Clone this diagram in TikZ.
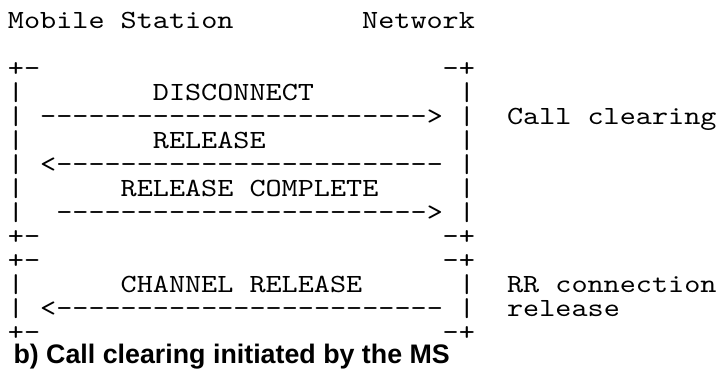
\documentclass[tikz,border=0pt]{standalone}
\usepackage{fontspec}
\usepackage{graphicx}
\newfontfamily\mono[FakeStretch=1.171,Ligatures=TeXOff]{lmmono10-regular.otf}
\newfontfamily\capfont{Liberation Sans}
\newcommand\cw{16.1}
\newsavebox\barbox
\newcommand\vbar{%
  \sbox\barbox{|}%
  \pgfmathsetmacro\vbfac{20/(\ht\barbox+\dp\barbox)}%
  \pgfmathsetmacro\vbrs{\vbfac*\dp\barbox-2.5}%
  \raisebox{\vbrs pt}{\scalebox{1}[\vbfac]{\usebox\barbox}}}
\begin{document}
\begin{tikzpicture}[x=1pt,y=1pt,
  txt/.style={anchor=base west,inner sep=0pt,outer sep=0pt,
    text height=18pt,text depth=3pt,
    font=\mono\fontsize{26.2}{26.2}\selectfont},
  captxt/.style={anchor=base west,inner sep=0pt,outer sep=0pt,
    text height=19pt,text depth=6pt,
    font=\capfont\bfseries\fontsize{26.8}{26.8}\selectfont}]
\useasboundingbox (0,0) rectangle (717,-376);
\newcommand\T[4]{\node[txt] (#1) at ({8+\cw*#2},{-28-24*#3}) {#4};}
% header
\T{ms}{0}{0}{Mobile Station}
\T{nw}{22}{0}{Network}
% first box
\T{tla}{0}{2}{+-}
\T{tra}{27}{2}{-+}
\foreach \r in {3,...,8}{
  \T{bl\r}{0}{\r}{\vbar}
  \T{br\r}{28}{\r}{\vbar}
}
\T{m1}{9}{3}{DISCONNECT}
\T{a1}{2}{4}{------------------------>}
\T{lab1}{31}{4}{Call clearing}
\T{m2}{9}{5}{RELEASE}
\T{a2}{2}{6}{<------------------------}
\T{m3}{7}{7}{RELEASE COMPLETE}
\T{a3}{3}{8}{----------------------->}
\T{bla}{0}{9}{+-}
\T{bra}{27}{9}{-+}
% second box
\T{tlb}{0}{10}{+-}
\T{trb}{27}{10}{-+}
\foreach \r in {11,12}{
  \T{cl\r}{0}{\r}{\vbar}
  \T{cr\r}{28}{\r}{\vbar}
}
\T{m4}{7}{11}{CHANNEL RELEASE}
\T{lab2}{31}{11}{RR connection}
\T{a4}{2}{12}{<------------------------}
\T{lab3}{31}{12}{release}
\T{blb}{0}{13}{+-}
\T{brb}{27}{13}{-+}
% caption
\node[captxt] (cap) at (13.5,-363) {b) Call clearing initiated by the MS};
\end{tikzpicture}
\end{document}
